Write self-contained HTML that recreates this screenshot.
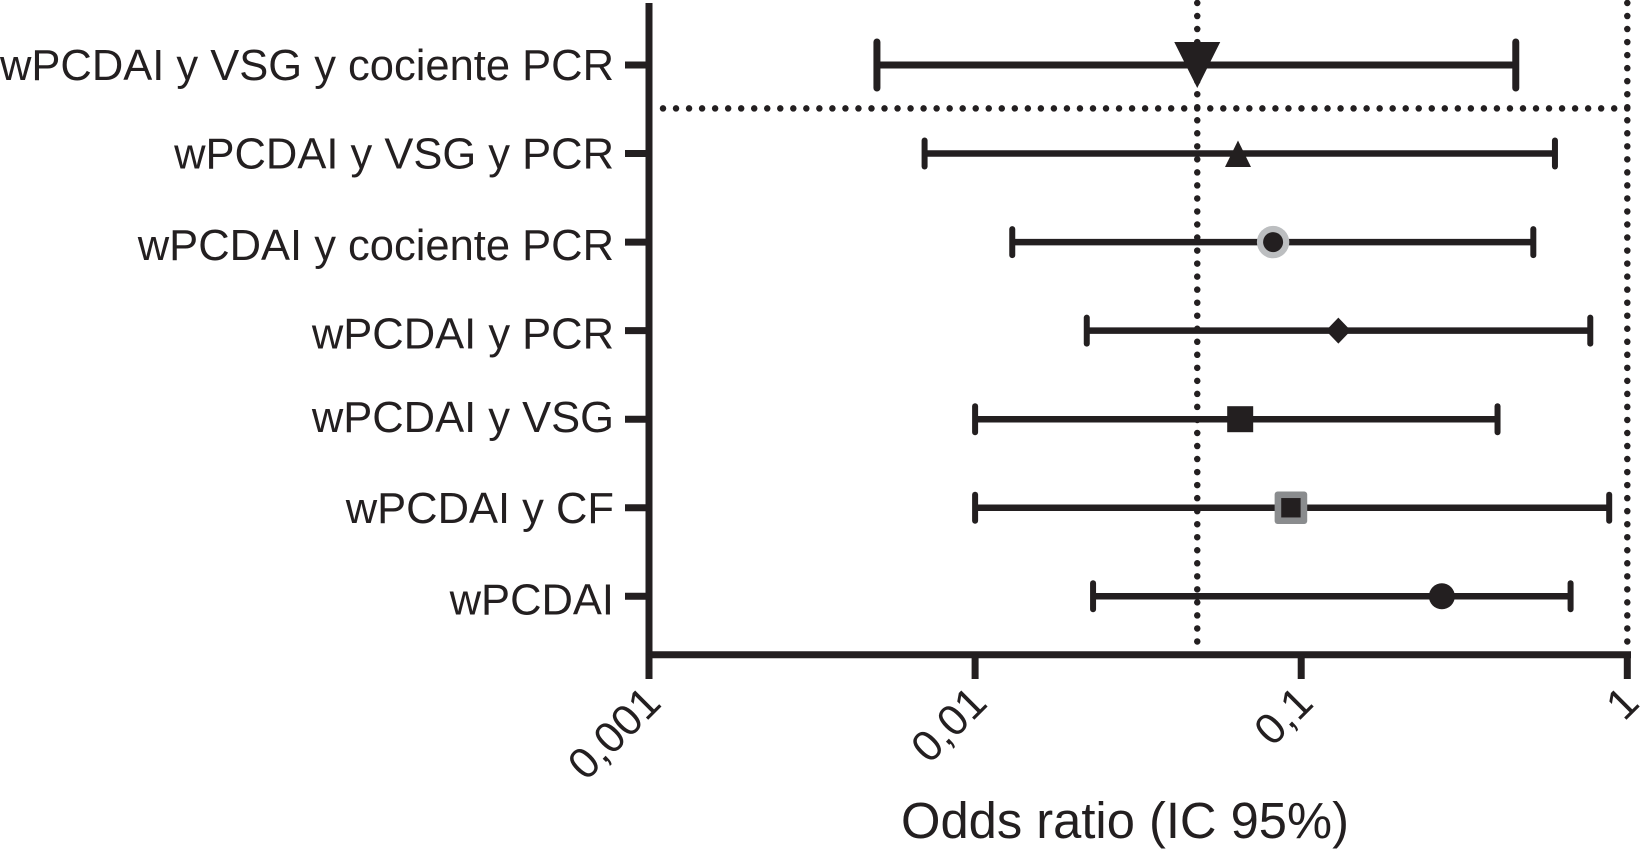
<!DOCTYPE html>
<html lang="es">
<head>
<meta charset="utf-8">
<title>Odds ratio (IC 95%)</title>
<style>
  html, body { margin: 0; padding: 0; background: #fff; }
  #chart { display: block; width: 1650px; height: 850px; }
  text { font-family: "Liberation Sans", sans-serif; fill: #231f20; }
</style>
</head>
<body>
<svg id="chart" xmlns="http://www.w3.org/2000/svg" width="1650" height="850" viewBox="0 0 1650 850">
  <rect x="0" y="0" width="1650" height="850" fill="#ffffff"/>
  <g id="series"></g>
  <g id="axes"></g>
  <text x="1125" y="838" text-anchor="middle" font-size="50.7">Odds ratio (IC 95%)</text>
</svg>
<script>
const categories = [
  "wPCDAI y VSG y cociente PCR",
  "wPCDAI y VSG y PCR",
  "wPCDAI y cociente PCR",
  "wPCDAI y PCR",
  "wPCDAI y VSG",
  "wPCDAI y CF",
  "wPCDAI"
];
const oddsRatio = [0.048, 0.064, 0.082, 0.13, 0.065, 0.093, 0.27];
const ciLow = [0.005, 0.007, 0.013, 0.022, 0.01, 0.01, 0.023];
const ciHigh = [0.455, 0.6, 0.515, 0.77, 0.4, 0.88, 0.67];
const markerKinds = ["triangle-down", "triangle-up", "ring", "diamond", "square", "framed-square", "circle"];
const xTickValues = [0.001, 0.01, 0.1, 1];
const xTickLabels = ["0,001", "0,01", "0,1", "1"];
const verticalRefValues = [0.048, 1];
const separatorRow = 0.49;

const NS = "http://www.w3.org/2000/svg";
const INK = "#231f20";

function xScale(v) {
  return 649 + (Math.log10(v) + 3) * 326.1;
}
function yScale(row) {
  return 65 + row * 88.55;
}
function labelBaselineShift(row) {
  if (row < 2) return 15;
  if (row === 4) return 13;
  if (row === 5) return 15;
  return 18;
}
function make(parent, tag, attrs) {
  const el = document.createElementNS(NS, tag);
  for (const k in attrs) el.setAttribute(k, attrs[k]);
  parent.appendChild(el);
  return el;
}

const series = document.getElementById("series");
const axes = document.getElementById("axes");

/* error bars first, dotted guides above them, markers on top */
categories.forEach(function (name, i) {
  const y = yScale(i);
  const big = i === 0;
  const lineW = big ? 7 : 6.5;
  const capH = big ? 26 : 16;
  const capW = big ? 7 : 6;
  const x0 = xScale(ciLow[i]);
  const x1 = xScale(ciHigh[i]);
  const bar = make(series, "line", { x1: x0, x2: x1, y1: y, y2: y, stroke: INK, "stroke-width": lineW });
  
  
  const capA = make(series, "line", { x1: x0, x2: x0, y1: y - capH + 3, y2: y + capH - 3, stroke: INK, "stroke-width": capW, "stroke-linecap": "round" });
  
  
  const capB = make(series, "line", { x1: x1, x2: x1, y1: y - capH + 3, y2: y + capH - 3, stroke: INK, "stroke-width": capW, "stroke-linecap": "round" });
  
  
});

verticalRefValues.forEach(function (v) {
  const x = xScale(v);
  const guide = make(series, "line", { x1: x, x2: x, y1: 3, y2: 642, stroke: INK, "stroke-width": 6.5, "stroke-linecap": "round", "stroke-dasharray": "0 13.03" });
  
  
});
const sepY = yScale(separatorRow);
const separator = make(series, "line", { x1: 663, x2: xScale(1), y1: sepY, y2: sepY, stroke: INK, "stroke-width": 6.5, "stroke-linecap": "round", "stroke-dasharray": "0 13.03" });



function drawMarker(kind, x, y) {
  const g = make(series, "g", {});
  if (kind === "triangle-down") {
    make(g, "polygon", { points: [x - 23, y - 23, x + 23, y - 23, x, y + 23].join(","), fill: INK });
  } else if (kind === "triangle-up") {
    make(g, "polygon", { points: [x, y - 13, x + 13, y + 13.5, x - 13, y + 13.5].join(","), fill: INK });
  } else if (kind === "ring") {
    make(g, "circle", { cx: x, cy: y, r: 16.2, fill: "#bcbec0" });
    make(g, "circle", { cx: x, cy: y, r: 10, fill: INK });
  } else if (kind === "diamond") {
    make(g, "polygon", { points: [x, y - 13, x + 12.5, y, x, y + 13, x - 12.5, y].join(","), fill: INK });
  } else if (kind === "square") {
    make(g, "rect", { x: x - 13, y: y - 13, width: 26, height: 26, fill: INK });
  } else if (kind === "framed-square") {
    make(g, "rect", { x: x - 16.3, y: y - 16.3, width: 32.6, height: 32.6, rx: 3, fill: "#8a8c8e" });
    make(g, "rect", { x: x - 9.7, y: y - 9.7, width: 19.4, height: 19.4, fill: INK });
  } else {
    make(g, "circle", { cx: x, cy: y, r: 13, fill: INK });
  }
  return g;
}
categories.forEach(function (name, i) {
  const marker = drawMarker(markerKinds[i], xScale(oddsRatio[i]), yScale(i));
  
  
});

/* axes */
const yAxis = make(axes, "line", { x1: 649, x2: 649, y1: 3, y2: 679, stroke: INK, "stroke-width": 7 });


const xAxis = make(axes, "line", { x1: 649, x2: 1631, y1: 654.7, y2: 654.7, stroke: INK, "stroke-width": 7 });



categories.forEach(function (name, i) {
  const y = yScale(i);
  const tick = make(axes, "line", { x1: 625, x2: 649, y1: y, y2: y, stroke: INK, "stroke-width": 7 });
  
  
  const label = make(axes, "text", { x: 614, y: y + labelBaselineShift(i), "text-anchor": "end", "font-size": 43.5 });
  
  
  label.textContent = name;
});

xTickValues.forEach(function (v, i) {
  const x = xScale(v);
  const tick = make(axes, "line", { x1: x, x2: x, y1: 654.7, y2: 679, stroke: INK, "stroke-width": 7 });
  
  
  const px = x + 14;
  const py = 705;
  const label = make(axes, "text", { x: px, y: py, "text-anchor": "end", "font-size": 43.5, transform: "rotate(-45 " + px + " " + py + ")" });
  
  
  label.textContent = xTickLabels[i];
});
</script>
</body>
</html>
